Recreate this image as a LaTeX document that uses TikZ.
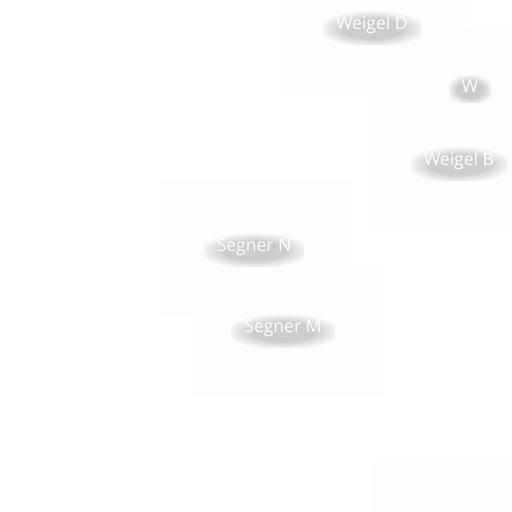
\documentclass[tikz,border=0pt]{standalone}
\usepackage{fontspec}
\setmainfont{Open Sans}
\usetikzlibrary{positioning, fadings}

\pgfdeclareradialshading{shadowshade}{\pgfpointorigin}{color(0bp)=(black!55); color(15bp)=(black!55); color(28bp)=(black); color(50bp)=(black)}
\pgfdeclarefading{softedge}{\pgfuseshading{shadowshade}}

\tikzset{
  place/.style={text=white, font=\fontsize{17.5}{20}\selectfont, inner sep=0pt},
  glow/.style={fill=black!42, path fading=softedge, draw=none},
  patch/.style={fill=black!0.8, draw=none},
  spot/.style={circle, fill=white, inner sep=0pt, minimum size=3pt}
}

% a name with a soft shadow under it
\newcommand{\mapname}[3]{%
  \node[place] (#1) at (#2) {#3};
  \path[glow] ([xshift=-13pt, yshift=-11pt]#1.south west) rectangle ([xshift=13pt, yshift=4pt]#1.north east);
  \node[place] at (#1) {#3};
}

\begin{document}
\begin{tikzpicture}[x=1pt, y=-1pt]
  \useasboundingbox[fill=white] (0,0) rectangle (512,512);

  % faint areas
  \fill[patch] (160,180) rectangle (352,315);
  \fill[patch] (192,265) rectangle (382,396);
  \fill[patch] (370,96) rectangle (512,230);
  \fill[patch] (282,0) rectangle (465,96);
  \fill[patch] (465,30) rectangle (512,96);
  \fill[patch] (372,462) rectangle (512,512);

  \mapname{weigelD}{372,25}{Weigel D}
  \mapname{w}{470,86}{W}
  \mapname{weigelB}{459,161}{Weigel B}
  \mapname{segnerN}{254,247}{Segner N}
  \mapname{segnerM}{283,328}{Segner M}

  \node[spot, left=36pt of segnerN] (dotN) {};
  \node[spot, left=40pt of segnerM] (dotM) {};
\end{tikzpicture}
\end{document}
